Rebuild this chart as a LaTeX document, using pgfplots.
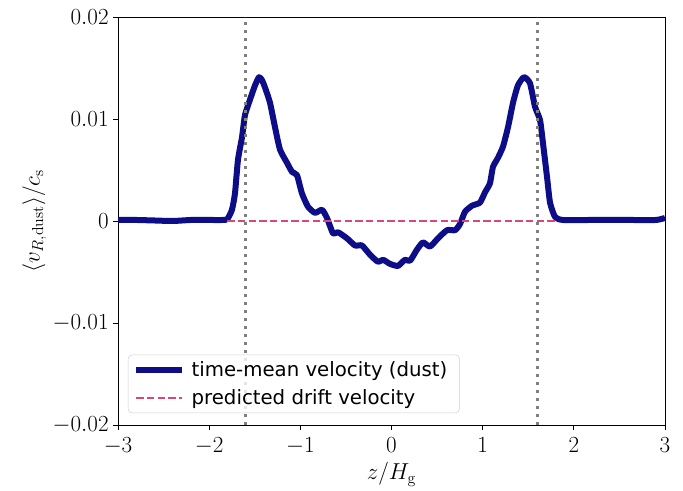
\documentclass[border=0pt]{standalone}
\usepackage{pgfplots}
\pgfplotsset{compat=1.18}
\usepackage{fontspec}
\newfontfamily\legfont{DejaVu Sans}
\definecolor{navyline}{HTML}{0D0D87}
\definecolor{pinkdash}{HTML}{D6477A}
\begin{document}
\begin{tikzpicture}
\begin{axis}[
  scale only axis,
  width=410.25pt, height=306pt,
  xmin=-3, xmax=3, ymin=-0.02, ymax=0.02,
  xtick={-3,-2,-1,0,1,2,3},
  xticklabels={$-3$,$-2$,$-1$,$0$,$1$,$2$,$3$},
  ytick={-0.02,-0.01,0,0.01,0.02},
  yticklabels={$-0.02$,$-0.01$,$0$,$0.01$,$0.02$},
  scaled y ticks=false,
  tick align=outside, tick pos=left,
  major tick length=3.5pt,
  every tick/.style={black, line width=0.6pt},
  axis line style={line width=0.6pt},
  tick label style={font=\fontsize{16.5}{19}\selectfont},
  xticklabel style={yshift=-2.5pt},
  label style={font=\fontsize{17}{20}\selectfont},
  xlabel={$z/H_\mathrm{g}$},
  xlabel style={yshift=1pt},
  ylabel={$\big\langle v_{R,\mathrm{dust}}\big\rangle/c_\mathrm{s}$},
  ylabel style={yshift=-2pt},
  legend style={at={(0.018,0.029)}, anchor=south west,
    font=\legfont\fontsize{14.8}{18}\selectfont,
    draw=black!18, rounded corners=3pt, fill=white, fill opacity=0.8, text opacity=1,
    inner xsep=4pt, inner ysep=3pt, row sep=4pt,
    nodes={inner xsep=5pt}},
  legend cell align=left,
  legend image code/.code={\draw[#1, line cap=butt] (0cm,0cm) -- (1.2cm,0cm);},
]
\addplot[navyline, line width=4.5pt, line join=round, smooth, tension=0.35]
coordinates {
(-3,0.0001) (-2.8,0.0001) (-2.6,0.00005) (-2.4,0.0) (-2.2,0.0001) (-2.0,0.0001)
(-1.85,0.0001) (-1.80,0.0002) (-1.75,0.0011) (-1.717,0.0027) (-1.684,0.006)
(-1.64,0.0082) (-1.607,0.0104) (-1.552,0.0119) (-1.497,0.0133) (-1.453,0.0141)
(-1.42,0.0138) (-1.388,0.0131) (-1.333,0.0116) (-1.278,0.0092) (-1.223,0.0070)
(-1.146,0.0057) (-1.09,0.0048) (-1.037,0.0045) (-0.982,0.0027) (-0.916,0.0014)
(-0.839,0.0008) (-0.762,0.0011) (-0.708,0.0003) (-0.642,-0.0012) (-0.587,-0.0011)
(-0.488,-0.0017) (-0.40,-0.0024) (-0.324,-0.0024) (-0.236,-0.0033) (-0.148,-0.0040)
(-0.093,-0.0038) (-0.017,-0.0042) (0.071,-0.0044) (0.148,-0.0038) (0.203,-0.0039)
(0.28,-0.0028) (0.345,-0.0021) (0.422,-0.0025) (0.51,-0.0017) (0.609,-0.0009)
(0.697,-0.0009) (0.751,-0.0003) (0.806,0.0009) (0.883,0.0015) (0.97,0.0018)
(1.025,0.0028) (1.08,0.0037) (1.113,0.0053) (1.168,0.0062) (1.223,0.0073)
(1.278,0.0092) (1.333,0.0116) (1.387,0.0133) (1.453,0.0141) (1.519,0.0135)
(1.574,0.0112) (1.629,0.0099) (1.662,0.0076) (1.706,0.0043) (1.739,0.0018)
(1.794,0.0004) (1.88,0.0001) (2.2,0.0001) (2.6,0.0001) (2.9,0.0001) (3,0.0003)
};
\addlegendentry{time-mean velocity (dust)}
\addplot[pinkdash, line width=1.5pt, dash pattern=on 5.5pt off 2.5pt]
coordinates {(-1.8,0) (1.8,0)};
\addlegendentry{predicted drift velocity}
\addplot[gray, line width=2.2pt, dash pattern=on 2.2pt off 3.8pt, forget plot]
coordinates {(-1.6,-0.02) (-1.6,0.02)};
\addplot[gray, line width=2.2pt, dash pattern=on 2.2pt off 3.8pt, forget plot]
coordinates {(1.6,-0.02) (1.6,0.02)};
\end{axis}
\path[use as bounding box] ([xshift=-88.5pt,yshift=-45pt]current axis.south west) rectangle ([xshift=13.5pt,yshift=12.75pt]current axis.north east);
\end{tikzpicture}
\end{document}
